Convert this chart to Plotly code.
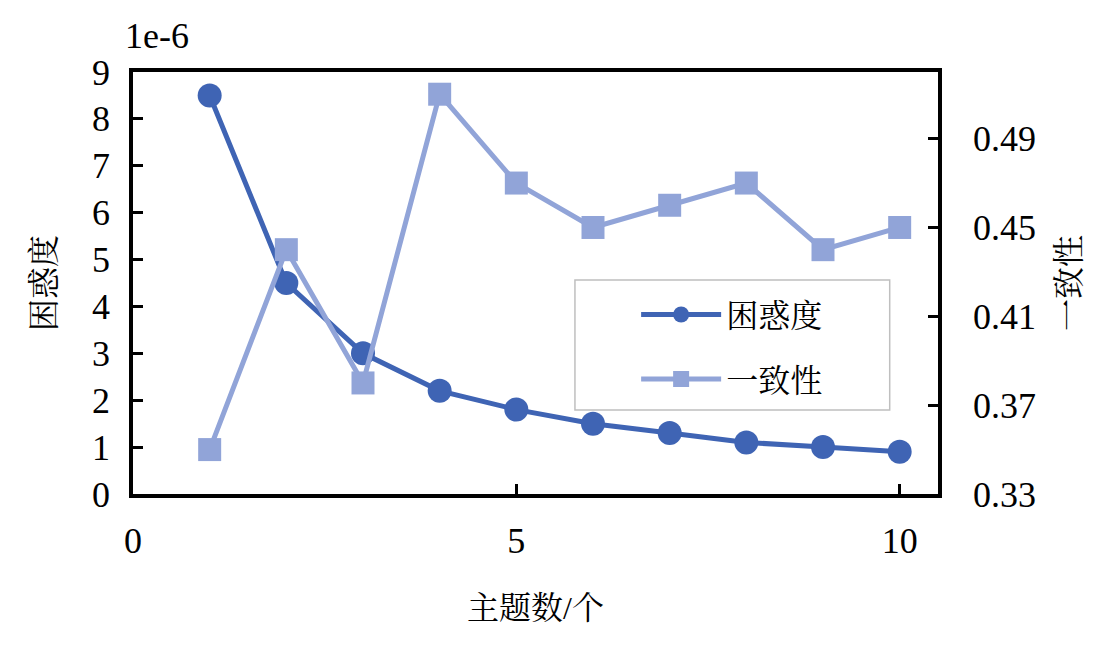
import plotly.graph_objects as go

# values
topics = [1, 2, 3, 4, 5, 6, 7, 8, 9, 10]
perplexity = [8.5, 4.5, 3.0, 2.2, 1.8, 1.5, 1.3, 1.1, 1.0, 0.9]  # in units of 1e-6
coherence = [0.35, 0.44, 0.38, 0.51, 0.47, 0.45, 0.46, 0.47, 0.44, 0.45]

x_ticks = [0, 5, 10]
y2_ticks = [0.33, 0.37, 0.41, 0.45, 0.49]

FONT = "Times New Roman, Liberation Serif, Noto Serif CJK SC, Noto Sans CJK SC"
DARK = "#3F64B4"
LIGHT = "#91A4D8"

fig = go.Figure()

fig.add_trace(
    go.Scatter(
        x=topics,
        y=perplexity,
        mode="lines+markers",
        name="困惑度",
        line=dict(color=DARK, width=5),
        marker=dict(symbol="circle", size=24, color=DARK),
        legendgroup="a",
    )
)

fig.add_trace(
    go.Scatter(
        x=topics,
        y=coherence,
        mode="lines+markers",
        name="一致性",
        yaxis="y2",
        line=dict(color=LIGHT, width=5),
        marker=dict(symbol="square", size=23, color=LIGHT),
        legendgroup="b",
    )
)

axis_common = dict(
    showline=True,
    linecolor="black",
    linewidth=3.5,
    ticks="inside",
    ticklen=10,
    tickwidth=3,
    tickcolor="black",
    showgrid=False,
    zeroline=False,
    tickfont=dict(family=FONT, size=36, color="black"),
)

fig.update_layout(
    width=1111,
    height=647,
    margin=dict(l=125, r=181, t=64, b=161),
    plot_bgcolor="white",
    paper_bgcolor="white",
    font=dict(family=FONT, color="black"),
    xaxis=dict(
        range=[0, 10.5],
        tickvals=x_ticks,
        mirror=True,
        ticklabelstandoff=12,
        title=dict(text="主题数/个", font=dict(family=FONT, size=32), standoff=38),
        **axis_common,
    ),
    yaxis=dict(
        range=[0, 9],
        dtick=1,
        ticklabelstandoff=12,
        title=dict(text="困惑度", font=dict(family=FONT, size=32), standoff=28),
        **axis_common,
    ),
    yaxis2=dict(
        range=[0.33, 0.52],
        tickvals=y2_ticks,
        tickformat=".2f",
        overlaying="y",
        side="right",
        ticklabelstandoff=24,
        title=dict(text="一致性", font=dict(family=FONT, size=32), standoff=24),
        **axis_common,
    ),
    legend=dict(
        x=0.625,
        y=0.49,
        xanchor="left",
        yanchor="top",
        bgcolor="rgba(0,0,0,0)",
        borderwidth=0,
        font=dict(family=FONT, size=32),
        tracegroupgap=20,
        traceorder="grouped",
        itemwidth=80,
    ),
    shapes=[
        dict(
            type="rect",
            xref="paper",
            yref="paper",
            x0=0.549,
            x1=0.940,
            y0=0.199,
            y1=0.507,
            line=dict(color="#BFBFBF", width=1.5),
            fillcolor="white",
            layer="below",
        )
    ],
    annotations=[
        dict(
            text="1e-6",
            xref="paper",
            yref="paper",
            x=0.0,
            y=1.0,
            yshift=14,
            xshift=-10,
            xanchor="left",
            yanchor="bottom",
            showarrow=False,
            font=dict(family=FONT, size=36),
        )
    ],
)

fig.write_html("out.html")
